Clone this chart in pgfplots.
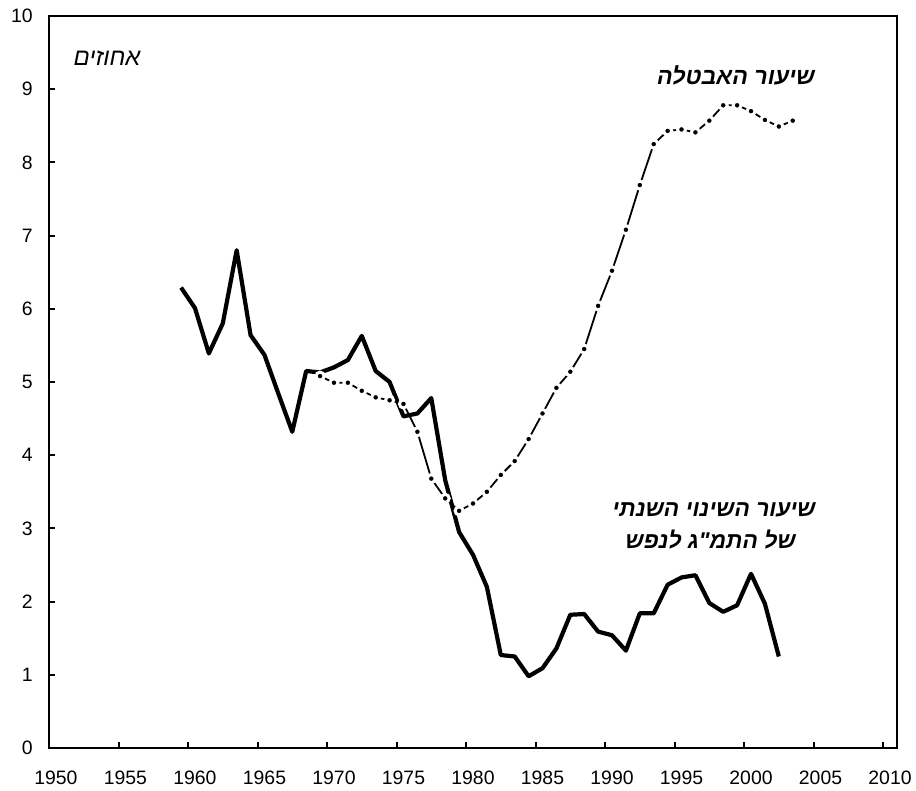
\documentclass[border=0pt]{standalone}
\usepackage{fontspec}
\setmainfont{Liberation Sans}
\newfontfamily\hebfont[Script=Hebrew]{Liberation Sans}
\TeXXeTstate=1
\usepackage{pgfplots}
\pgfplotsset{compat=1.18}

\begin{document}
\begin{tikzpicture}
\path[use as bounding box] (-24.5pt,-21.5pt) rectangle (433.5pt,374pt);
\begin{axis}[
  at={(0pt,0pt)}, anchor=south west,
  scale only axis, width=424pt, height=366pt,
  xmin=1949.5, xmax=2010.5, ymin=0, ymax=10,
  xtick={1949.5,1954.5,1959.5,1964.5,1969.5,1974.5,1979.5,1984.5,1989.5,1994.5,1999.5,2004.5,2009.5},
  xticklabels={1950,1955,1960,1965,1970,1975,1980,1985,1990,1995,2000,2005,2010},
  ytick={0,1,2,3,4,5,6,7,8,9,10},
  xtick pos=bottom, ytick pos=left,
  tick align=inside,
  major tick length=3pt,
  axis line style={line width=1.3pt},
  every tick/.style={black, line width=1pt},
  tick label style={font=\fontsize{9.7}{11.6}\selectfont, inner sep=0pt},
  xticklabel style={anchor=north, yshift=-11.5pt, xshift=3.475pt},
  yticklabel style={anchor=east, xshift=-8pt},
  /pgf/number format/assume math mode=true,
  /pgf/number format/1000 sep={},
  clip=false,
]
\addplot[black, line width=2.1pt, line join=round] coordinates {
(1959,6.29) (1960,6.01) (1961,5.39) (1962,5.80) (1963,6.80) (1964,5.64)
(1965,5.37) (1966,4.84) (1967,4.32) (1968,5.15) (1969,5.13) (1970,5.20)
(1971,5.30) (1972,5.63) (1973,5.15) (1974,5.00) (1975,4.53) (1976,4.57)
(1977,4.78) (1978,3.66) (1979,2.95) (1980,2.64) (1981,2.20) (1982,1.27)
(1983,1.25) (1984,0.98) (1985,1.09) (1986,1.36) (1987,1.82) (1988,1.83)
(1989,1.59) (1990,1.54) (1991,1.33) (1992,1.84) (1993,1.84) (1994,2.23)
(1995,2.33) (1996,2.36) (1997,1.98) (1998,1.86) (1999,1.95) (2000,2.38)
(2001,1.97) (2002,1.25)
};
\addplot[black, line width=0.9pt, mark=*, mark size=2pt,
  mark options={fill=black, draw=white, line width=1.5pt}] coordinates {
(1969,5.08) (1970,4.99) (1971,4.99) (1972,4.88) (1973,4.79) (1974,4.75)
(1975,4.70) (1976,4.32) (1977,3.68) (1978,3.41) (1979,3.24) (1980,3.34)
(1981,3.50) (1982,3.73) (1983,3.92) (1984,4.22) (1985,4.57) (1986,4.92)
(1987,5.14) (1988,5.45) (1989,6.04) (1990,6.52) (1991,7.08) (1992,7.69)
(1993,8.25) (1994,8.43) (1995,8.45) (1996,8.41) (1997,8.57) (1998,8.78)
(1999,8.78) (2000,8.70) (2001,8.58) (2002,8.49) (2003,8.57)
};
\node[anchor=base, inner sep=0pt, font=\fontsize{12}{14}\selectfont\hebfont\itshape] at (axis cs:1953.67,9.33) {\beginR אחוזים\endR};
\node[anchor=base, inner sep=0pt, font=\fontsize{11.6}{14}\selectfont\hebfont\bfseries\itshape] at (axis cs:1998.92,9.06) {\beginR שיעור האבטלה\endR};
\node[anchor=base, inner sep=0pt, font=\fontsize{11.4}{14}\selectfont\hebfont\bfseries\itshape] at (axis cs:1997.34,3.156) {\beginR שיעור השינוי השנתי\endR};
\node[anchor=base, inner sep=0pt, font=\fontsize{11.4}{14}\selectfont\hebfont\bfseries\itshape] at (axis cs:1997.09,2.719) {\beginR של התמ"ג לנפש\endR};
\end{axis}
\end{tikzpicture}
\end{document}
